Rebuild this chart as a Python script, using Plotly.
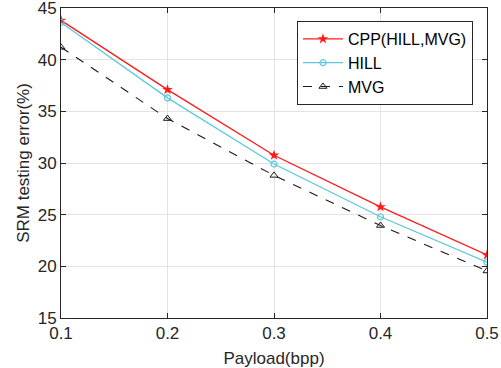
import plotly.graph_objects as go

payload = [0.1, 0.2, 0.3, 0.4, 0.5]
cpp = [43.8, 37.1, 30.75, 25.75, 21.1]
hill = [43.6, 36.3, 29.9, 24.8, 20.4]
mvg = [41.2, 34.3, 28.8, 23.95, 19.55]
xticks = [0.1, 0.2, 0.3, 0.4, 0.5]
yticks = [15, 20, 25, 30, 35, 40, 45]

FONT = "Liberation Sans, Arial, Helvetica"

fig = go.Figure()
fig.add_trace(go.Scatter(x=payload, y=cpp, name="CPP(HILL,MVG)", mode="lines+markers",
                         line=dict(color="#ff1a1a", width=1.3),
                         marker=dict(symbol="star", size=8, color="#ff1a1a")))
fig.add_trace(go.Scatter(x=payload, y=hill, name="HILL", mode="lines+markers",
                         line=dict(color="#5cc8dc", width=1.3),
                         marker=dict(symbol="circle-open", size=6, color="#5cc8dc", line=dict(width=1.2))))
fig.add_trace(go.Scatter(x=payload, y=mvg, name="MVG", mode="lines+markers",
                         line=dict(color="#1a1a1a", width=1.1, dash="dash"),
                         marker=dict(symbol="triangle-up-open", size=7, color="#1a1a1a", line=dict(width=1))))

axis_common = dict(showgrid=True, gridcolor="#e3e3e3", gridwidth=1, showline=True,
                   linecolor="#262626", linewidth=1, mirror="ticks", ticks="inside",
                   ticklen=5, tickcolor="#262626", zeroline=False, automargin=False,
                   ticklabeloverflow="allow",
                   tickfont=dict(family=FONT, size=17, color="#262626"))
fig.update_xaxes(range=[0.1, 0.5], tickvals=xticks, ticktext=[str(v) for v in xticks],
                 title=dict(text="Payload(bpp)", font=dict(family=FONT, size=17, color="#262626")),
                 **axis_common)
fig.update_yaxes(range=[15, 45], tickvals=yticks,
                 title=dict(text="SRM testing error(%)", font=dict(family=FONT, size=17, color="#262626"),
                            standoff=3),
                 **axis_common)
fig.update_layout(width=501, height=368, margin=dict(l=61, r=14, t=8, b=50),
                  plot_bgcolor="white", paper_bgcolor="white",
                  legend=dict(x=0.967, y=0.958, xanchor="right", yanchor="top",
                              bgcolor="white", bordercolor="#262626", borderwidth=1,
                              font=dict(family=FONT, size=16, color="#000000"),
                              tracegroupgap=0, itemwidth=40),
                  showlegend=True)
fig.write_html("out.html", config={"displayModeBar": False},
               post_script="document.body.style.margin='0';document.body.style.overflow='hidden';")
